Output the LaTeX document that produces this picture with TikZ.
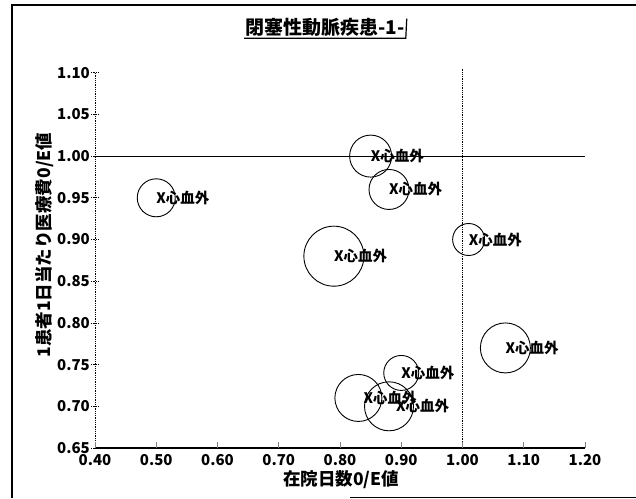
\documentclass[tikz,border=0pt]{standalone}
\usepackage{fontspec}
\setmainfont{Noto Sans CJK JP}
\usetikzlibrary{positioning}

\begin{document}
\begin{tikzpicture}[x=1pt,y=1pt,
	bubble/.style={draw,circle,line width=0.9pt,inner sep=0pt,minimum size=#1pt},
	bublab/.style={anchor=west,inner sep=0pt,font=\bfseries\fontsize{14.5}{14.5}\selectfont},
	ticklab/.style={inner sep=0pt,font=\bfseries\fontsize{15}{15}\selectfont},
	axlab/.style={inner sep=0pt,font=\bfseries\fontsize{17.5}{17.5}\selectfont},
	titlelab/.style={inner sep=1pt,font=\bfseries\fontsize{19}{19}\selectfont}]
	\useasboundingbox (0,0) rectangle (636,498);
	%%%%%%%%%%%%%%% frame and title
	\draw[line width=1.6pt] (12,0) -- (12,493) -- (636,493);
	\draw[line width=1pt] (350,1) -- (636,1);
	\node[titlelab] (title) at (325,471) {閉塞性動脈疾患-1-};
	\draw[line width=1.2pt] ([yshift=-1pt]title.south west) -- ([yshift=-1pt]title.south east)
		-- ([xshift=1pt,yshift=-2pt]title.north east);
	%%%%%%%%%%%%%%% axis labels
	\node[axlab] (xlab) at (341,18) {在院日数0/E値};
	\node[axlab,rotate=90] (ylab) at (45,253) {1患者1日当たり医療費0/E値};
	%%%%%%%%%%%%%%% plot area, data units
	\begin{scope}[x=612.5pt,y=834pt,shift={(-150pt,-492.1pt)}]
		\coordinate (o) at (0.4,0.65);
		\coordinate (xe) at (1.2,0.65);
		\coordinate (yt) at (0.4,1.10);
		\coordinate (hl) at (0.4,1.00);
		\coordinate (hr) at (1.2,1.00);
		\coordinate (vt) at (1.0,1.105);
		\coordinate (vb) at (1.0,0.65);
		\draw[densely dotted,line width=0.8pt] (o) -- (yt);
		\draw[line width=0.7pt] (hl) -- (hr);
		\draw[densely dotted,line width=0.8pt] (vt) -- (vb);
		\draw[line width=1.8pt] (o) -- (xe);
		\foreach \y in {0.65,0.70,0.75,0.80,0.85,0.90,0.95,1.00,1.05,1.10}{
			\draw[densely dotted,line width=0.7pt] (0.4,\y) ++(-4pt,0) -- ++(8pt,0);
			\node[ticklab,anchor=east] (ty\y) at ([xshift=-5pt]0.4,\y) {\y};
		}
		\foreach \x in {0.40,0.50,0.60,0.70,0.80,0.90,1.00,1.10,1.20}{
			\draw[gray,line width=0.7pt] (\x,0.65) -- ++(0,6pt);
			\node[ticklab,anchor=north] (tx\x) at ([yshift=-6pt]\x,0.65) {\x};
		}
		%%%%%%%%%%%%%%% bubbles
		\foreach \n/\x/\y/\d/\s in {1/0.50/0.95/38/0, 2/0.85/1.00/42/0, 3/0.88/0.96/40/0,
			4/1.01/0.90/32/0, 5/0.79/0.88/60/0, 6/1.07/0.77/50/0,
			7/0.90/0.74/35/0, 8/0.83/0.71/47/5, 9/0.88/0.70/49/7}{
			\node[bubble=\d] (b\n) at (\x,\y) {};
			\node[bublab] (l\n) at ([xshift=\s pt]b\n.center) {X心血外};
		}
	\end{scope}
\end{tikzpicture}
\end{document}
